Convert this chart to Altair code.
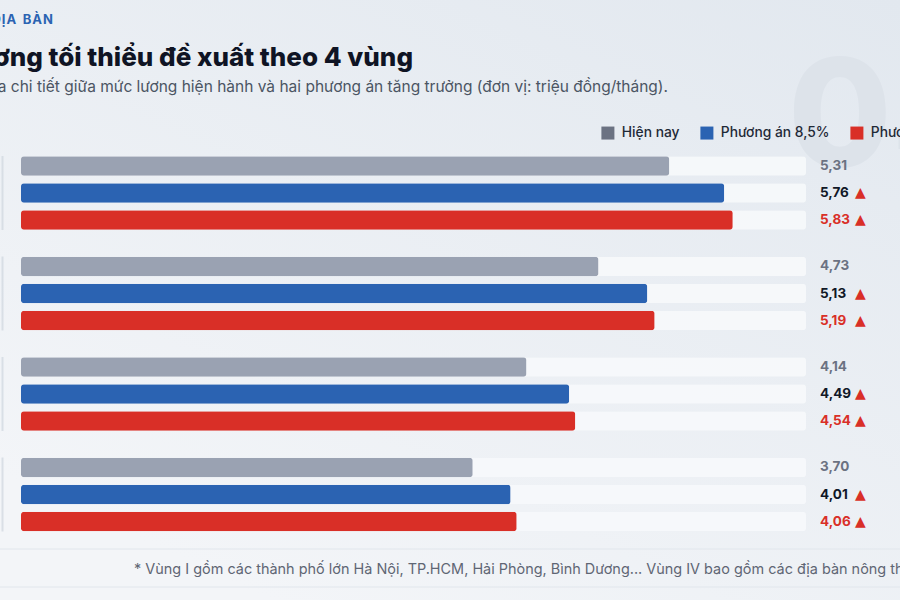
import altair as alt
import pandas as pd

# --- chart values -----------------------------------------------------------
REGIONS = ["Vùng I", "Vùng II", "Vùng III", "Vùng IV"]
SERIES = ["Hiện nay", "Phương án 8,5%", "Phương án 9,7%"]
CURRENT = [5.31, 4.73, 4.14, 3.70]
PLAN_85 = [5.76, 5.13, 4.49, 4.01]
PLAN_97 = [5.83, 5.19, 4.54, 4.06]
TRACK_MAX = 6.43

KICKER = "PHÂN THEO ĐỊA BÀN"
TITLE = "Mức lương tối thiểu đề xuất theo 4 vùng"
SUBTITLE = ("Biểu đồ so sánh qua chi tiết giữa mức lương hiện hành và hai "
            "phương án tăng trưởng (đơn vị: triệu đồng/tháng).")
FOOTNOTE = ("* Vùng I gồm các thành phố lớn Hà Nội, TP.HCM, Hải Phòng, Bình Dương... "
            "Vùng IV bao gồm các địa bàn nông thôn.")

# --- styling ----------------------------------------------------------------
BAR_COLORS = ["#9aa2b2", "#2b63b2", "#d92f27"]
LEGEND_COLORS = ["#6b7282", "#2b63b2", "#d92f27"]
LABEL_COLORS = ["#6b7282", "#111827", "#d92f27"]
FONT = "Inter"
W, H = 900, 600

rows = []
for i, r in enumerate(REGIONS):
    for s, vals in zip(SERIES, [CURRENT, PLAN_85, PLAN_97]):
        v = vals[i]
        rows.append({"region": r, "series": s, "value": v,
                     "label": f"{v:.2f}".replace(".", ",")})
df = pd.DataFrame(rows)

x_scale = alt.Scale(domain=[0, TRACK_MAX], range=[21, 806])
y_enc = alt.Y("region:N", sort=REGIONS, axis=None,
              scale=alt.Scale(domain=REGIONS, range=[142.75, 544.75],
                              paddingInner=0, paddingOuter=0))
yoff_enc = alt.YOffset("series:N", sort=SERIES,
                       scale=alt.Scale(domain=SERIES, paddingInner=0.278,
                                       paddingOuter=0.5))

one = pd.DataFrame({"k": [0]})


def text_layer(text, x, y, **style):
    """A single line of free text placed in the page."""
    return alt.Chart(pd.DataFrame({"t": [text]})).mark_text(**style).encode(
        text="t:N", x=alt.value(x), y=alt.value(y))


def hline(y, color="#e1e6ec"):
    return alt.Chart(one).mark_rule(color=color, strokeWidth=1).encode(
        x=alt.value(0), x2=alt.value(W), y=alt.value(y))


def tracked(s):
    """Spread capital letters apart (letter-spaced kicker)."""
    words = ["\u200a".join(w) for w in s.split(" ")]
    return "\u2002".join(words)


# background with a soft diagonal gradient
background = alt.Chart(one).mark_rect(
    fill=alt.Gradient(gradient="linear",
                      stops=[alt.GradientStop(color="#e2e8ef", offset=0),
                             alt.GradientStop(color="#f3f5f8", offset=1)],
                      x1=1, y1=0, x2=0.3, y2=1)
).encode(x=alt.value(0), x2=alt.value(W), y=alt.value(0), y2=alt.value(H))

# big faint section number
watermark = text_layer("04", 788, 167, font=FONT, fontSize=150, fontWeight=800,
                       color="#dde3ea", align="left", baseline="alphabetic")

kicker = text_layer(tracked(KICKER), 53, 20, font=FONT, fontSize=13,
                    fontWeight=700, color="#2b63b2", align="right",
                    baseline="middle")

title = text_layer(TITLE, 413, 66, font=FONT, fontSize=26, fontWeight=800,
                   color="#0f1424", align="right", baseline="alphabetic")

subtitle = text_layer(SUBTITLE, 668, 87, font=FONT, fontSize=15.5,
                      color="#4b5563", align="right", baseline="middle")

footnote = text_layer(FOOTNOTE, 134, 570, font=FONT, fontSize=14.45,
                      color="#5f6674", align="left", baseline="middle")

# light tracks behind every bar
tracks = alt.Chart(df).transform_calculate(full=str(TRACK_MAX)).mark_bar(
    color="#f6f8fb", opacity=0.92, cornerRadius=3
).encode(x=alt.X("full:Q", scale=x_scale, axis=None), y=y_enc, yOffset=yoff_enc)

bars = alt.Chart(df).mark_bar(cornerRadius=3).encode(
    x=alt.X("value:Q", scale=x_scale, axis=None),
    y=y_enc, yOffset=yoff_enc,
    color=alt.Color("series:N", scale=alt.Scale(domain=SERIES, range=BAR_COLORS),
                    legend=None),
)

# thin grouping rule at the left of each region
group_rules = alt.Chart(pd.DataFrame({"region": REGIONS})).mark_tick(
    orient="vertical", size=74, thickness=2, color="#cfd5de"
).encode(x=alt.value(2.5), y=y_enc)

labels = alt.Chart(df).mark_text(
    font=FONT, fontSize=13.5, fontWeight=700, align="left", baseline="middle"
).encode(
    x=alt.value(820), y=y_enc, yOffset=yoff_enc, text="label:N",
    color=alt.Color("series:N", scale=alt.Scale(domain=SERIES, range=LABEL_COLORS),
                    legend=None),
)

arrows = alt.Chart(df).transform_filter(
    alt.datum.series != SERIES[0]
).mark_text(
    font="DejaVu Sans", fontSize=14, color="#d92f27", align="left", baseline="middle"
).encode(x=alt.value(855), y=y_enc, yOffset=yoff_enc, text=alt.value("▲"))

legend_layer = alt.Chart(df).mark_square(opacity=0).encode(
    x=alt.X("value:Q", scale=x_scale, axis=None),
    y=y_enc, yOffset=yoff_enc,
    color=alt.Color(
        "series:N",
        scale=alt.Scale(domain=SERIES, range=LEGEND_COLORS),
        legend=alt.Legend(
            title=None, orient="none", legendX=601, legendY=126,
            direction="horizontal", symbolType="square", symbolSize=169,
            symbolOpacity=1, symbolStrokeWidth=0, labelFont=FONT,
            labelFontSize=13.8, labelFontWeight=500, labelColor="#1f2937",
            labelOffset=7, columnPadding=20, labelLimit=300,
        ),
    ),
)

chart = alt.layer(
    background, watermark, kicker, title, subtitle, hline(549), hline(587),
    footnote, tracks, bars, group_rules, labels, arrows, legend_layer,
).resolve_scale(color="independent").properties(
    width=W, height=H, padding=0,
    autosize=alt.AutoSizeParams(type="none"),
).configure_view(stroke=None)

chart.save("out.html", embed_options={"renderer": "svg", "actions": False})
